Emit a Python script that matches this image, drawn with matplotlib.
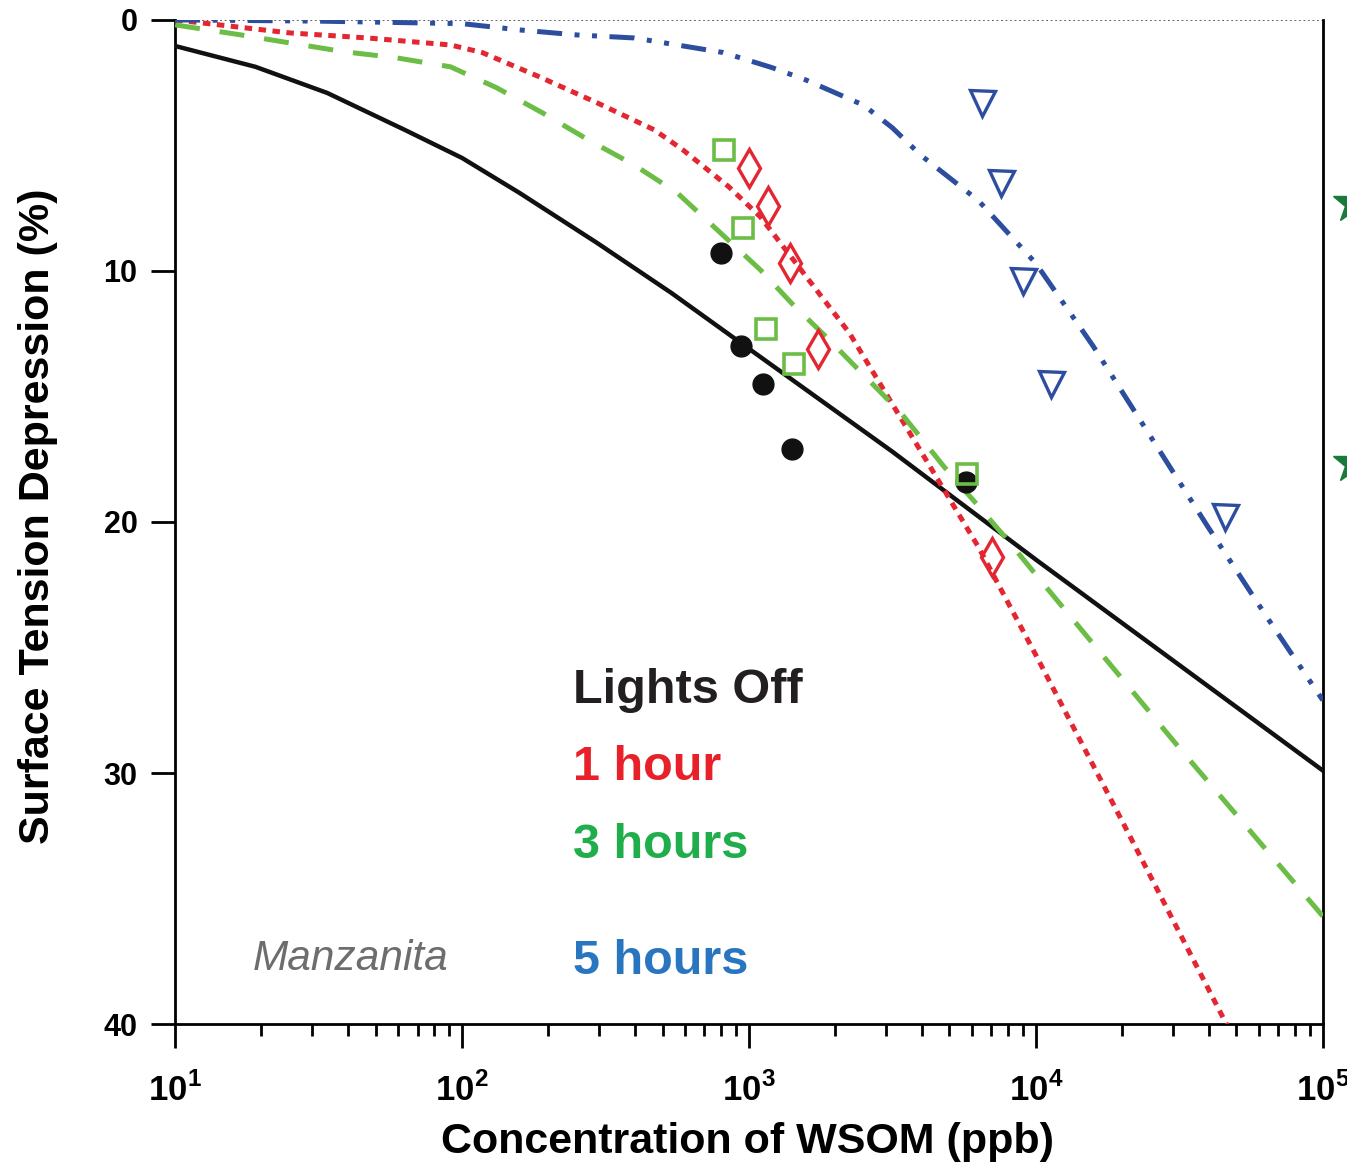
import numpy as np
import matplotlib
matplotlib.use("Agg")
import matplotlib.pyplot as plt
from matplotlib.ticker import FixedLocator, LogLocator, NullFormatter

plt.rcParams['font.family'] = ['Liberation Sans', 'DejaVu Sans']
plt.rcParams['mathtext.fontset'] = 'custom'
plt.rcParams['mathtext.bf'] = 'Liberation Sans:bold'
plt.rcParams['mathtext.rm'] = 'Liberation Sans'

# Measured surface tension depression (%) vs WSOM concentration (ppb)
off_x = [798, 938, 1119, 1413, 5703]
off_y = [9.3, 13.0, 14.5, 17.1, 18.4]
h1_x = [1000, 1165, 1390, 1740, 7034]
h1_y = [5.9, 7.4, 9.7, 13.1, 21.4]
h3_x = [818, 953, 1146, 1435, 5754]
h3_y = [5.2, 8.3, 12.3, 13.7, 18.1]
h5_x = [6486, 7555, 9016, 11277, 45600]
h5_y = [3.3, 6.5, 10.4, 14.5, 19.8]

# Fitted curves (log10 concentration, depression %)
off_fit_logx = [1.0, 1.28, 1.53, 1.8, 2.0, 2.2, 2.47, 2.73, 3.0, 3.5, 4.0, 4.5, 5.0]
off_fit_y = [1.04, 1.87, 2.91, 4.38, 5.5, 6.89, 8.88, 10.88, 13.1, 17.2, 21.5, 25.7, 29.9]
h1_fit_logx = [1.0, 1.4, 1.67, 1.96, 2.07, 2.27, 2.47, 2.67, 2.77, 2.93, 3.04, 3.12,
               3.35, 3.6, 3.8, 4.0, 4.3, 4.7]
h1_fit_y = [0.0, 0.52, 0.72, 1.0, 1.3, 2.27, 3.3, 4.38, 5.18, 6.65, 7.85, 9.04,
            12.47, 17.2, 21.0, 25.3, 31.9, 40.8]
h3_fit_logx = [1.0, 1.23, 1.4, 1.59, 1.77, 1.96, 2.12, 2.28, 2.44, 2.6, 2.75, 2.89,
               3.04, 3.15, 3.28, 3.53, 3.68, 3.79, 3.9, 4.0, 4.5, 5.0]
h3_fit_y = [0.2, 0.6, 0.92, 1.27, 1.51, 1.87, 2.7, 3.7, 4.78, 5.78, 6.89, 8.37,
            9.96, 11.3, 12.75, 15.66, 17.8, 19.24, 20.7, 22.1, 29.0, 35.7]
h5_fit_logx = [1.0, 1.5, 2.0, 2.2, 2.4, 2.6, 2.91, 3.08, 3.2, 3.4, 3.5, 3.6, 3.8,
               4.0, 4.2, 4.4, 4.6, 4.8, 5.0]
h5_fit_y = [0.0, 0.05, 0.15, 0.4, 0.6, 0.72, 1.3, 1.9, 2.4, 3.4, 4.3, 5.4, 7.2,
            9.7, 13.0, 16.6, 20.2, 23.7, 27.1]

# Series off the right edge of the plotting area
star_x = [1.27e5, 1.27e5]
star_y = [7.3, 17.65]

legend_labels = ["Lights Off", "1 hour", "3 hours", "5 hours"]
legend_colors = ["#231f20", "#e8202a", "#1fae4b", "#2a75c0"]

c_black = "#111111"
c_red = "#e32631"
c_green = "#6cbd45"
c_blue = "#2d4e9e"

fig = plt.figure(figsize=(13.47, 11.69), dpi=100)
ax = fig.add_axes([0.130, 0.124, 0.852, 0.859])
ax.set_xscale('log')
ax.set_xlim(10, 1e5)
ax.set_ylim(40, 0)

ax.axhline(0, color="#555555", lw=1.3, ls=(0, (1, 1.5)), zorder=1)

ax.plot(10 ** np.array(off_fit_logx), off_fit_y, color=c_black, lw=3.2, zorder=3)
ax.plot(10 ** np.array(h1_fit_logx), h1_fit_y, color=c_red, lw=3.6, ls=(0, (1.5, 1.3)), zorder=3)
ax.plot(10 ** np.array(h3_fit_logx), h3_fit_y, color=c_green, lw=3.6, ls=(0, (5, 4)), zorder=3)
ax.plot(10 ** np.array(h5_fit_logx), h5_fit_y, color=c_blue, lw=3.6,
        ls=(0, (5, 2.5, 1, 2.5, 1, 2.5)), zorder=3)

ax.plot(off_x, off_y, 'o', color=c_black, ms=15, zorder=4)
ax.plot(h3_x, h3_y, 's', mfc='none', mec=c_green, mew=2.6, ms=15, zorder=5)
ax.plot(h1_x, h1_y, 'd', mfc='none', mec=c_red, mew=2.4, ms=19, zorder=5)
ax.plot(h5_x, h5_y, 'v', mfc='none', mec=c_blue, mew=2.4, ms=18, zorder=5)
ax.plot(star_x, star_y, '*', color="#1a7a3c", ms=31, clip_on=False, zorder=5)

for sp in ['left', 'right', 'bottom']:
    ax.spines[sp].set_linewidth(2.0)
ax.spines['top'].set_visible(False)

ax.set_yticks([0, 10, 20, 30, 40])
ax.set_yticklabels(['0', '10', '20', '30', '40'], fontsize=22, fontweight='bold')
ax.xaxis.set_major_locator(FixedLocator([10, 100, 1e3, 1e4, 1e5]))
ax.set_xticklabels([r'$\mathbf{10}^{\mathbf{1}}$', r'$\mathbf{10}^{\mathbf{2}}$',
                    r'$\mathbf{10}^{\mathbf{3}}$', r'$\mathbf{10}^{\mathbf{4}}$',
                    r'$\mathbf{10}^{\mathbf{5}}$'], fontsize=25)
ax.xaxis.set_minor_locator(LogLocator(base=10, subs=np.arange(2, 10), numticks=20))
ax.xaxis.set_minor_formatter(NullFormatter())
ax.tick_params(axis='both', which='major', direction='out', length=17, width=2.0)
ax.tick_params(axis='x', which='minor', direction='out', length=8.5, width=2.0)
ax.tick_params(axis='x', which='major', pad=18)
ax.tick_params(axis='y', which='major', pad=10)

ax.set_xlabel("Concentration of WSOM (ppb)", fontsize=31, fontweight='bold')
ax.set_ylabel("Surface Tension Depression (%)", fontsize=31, fontweight='bold')
ax.xaxis.set_label_coords(0.499, -0.098)
ax.yaxis.set_label_coords(-0.102, 0.506)

text_y = [26.7, 29.8, 32.9, 37.5]
for lab, col, ty in zip(legend_labels, legend_colors, text_y):
    ax.text(244, ty, lab, color=col, fontsize=35, fontweight='bold', va='center', ha='left')
ax.text(18.7, 37.4, "Manzanita", color="#6d6d6d", fontsize=30.5, style='italic',
        va='center', ha='left')

fig.savefig("out.png", dpi=100)
